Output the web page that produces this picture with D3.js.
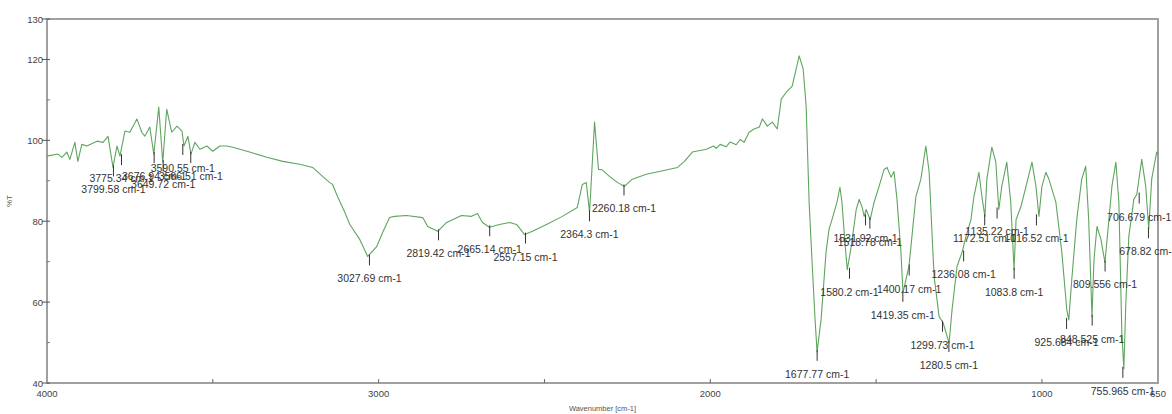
<!DOCTYPE html>
<html>
<head>
<meta charset="utf-8">
<script src="https://cdn.jsdelivr.net/npm/d3@7"></script>
<style>
  body { margin: 0; background: #fff; }
  svg text { font-family: "Liberation Sans", Arial, sans-serif; }
</style>
</head>
<body>
<div id="chart"></div>
<script>
// spectrum (wavenumber cm-1, %T)
const wavenumbers = [
  4000, 3967, 3955, 3940, 3931, 3916, 3907, 3895, 3880, 3849, 3831, 3816, 3801, 3789, 3780, 3765,
  3750, 3729, 3714, 3705, 3690, 3678, 3663, 3651, 3639, 3624, 3608, 3593, 3587, 3575, 3566, 3554,
  3539, 3518, 3500, 3479, 3458, 3440, 3389, 3337, 3289, 3238, 3199, 3169, 3148, 3139, 3124, 3102,
  3087, 3057, 3033, 3006, 2988, 2967, 2952, 2916, 2867, 2852, 2822, 2795, 2750, 2720, 2702, 2687,
  2666, 2636, 2605, 2584, 2560, 2536, 2494, 2446, 2401, 2386, 2374, 2364, 2349, 2337, 2328, 2304,
  2280, 2259, 2235, 2193, 2154, 2099, 2078, 2054, 2012, 1990, 1982, 1970, 1952, 1940, 1922, 1910,
  1898, 1883, 1868, 1852, 1843, 1828, 1813, 1798, 1786, 1771, 1753, 1732, 1720, 1711, 1702, 1693,
  1684, 1678, 1666, 1651, 1642, 1633, 1618, 1609, 1603, 1594, 1587, 1575, 1560, 1551, 1542, 1536,
  1530, 1518, 1506, 1491, 1476, 1467, 1455, 1446, 1437, 1425, 1419, 1410, 1401, 1392, 1380, 1365,
  1350, 1340, 1331, 1325, 1310, 1298, 1280, 1271, 1256, 1241, 1229, 1214, 1205, 1190, 1181, 1172,
  1166, 1151, 1139, 1130, 1121, 1106, 1094, 1084, 1078, 1063, 1048, 1030, 1018, 1009, 1000, 988,
  979, 958, 940, 925, 919, 910, 895, 880, 868, 859, 849, 843, 834, 822, 810, 798,
  789, 777, 768, 759, 753, 747, 738, 723, 714, 699, 687, 678, 669, 654, 650
];
const transmittance = [
  96.1, 96.6, 95.8, 97.1, 95.3, 99.5, 94.8, 99.0, 98.6, 99.8, 99.5, 101.0, 93.3, 98.6, 96.1, 102.3,
  102.0, 105.3, 102.0, 101.0, 103.3, 96.6, 108.2, 94.6, 107.7, 102.0, 103.5, 102.3, 98.6, 101.0, 96.6, 99.5,
  97.8, 98.6, 97.3, 98.6, 98.6, 98.3, 97.1, 95.8, 94.8, 94.1, 93.3, 91.1, 89.6, 89.1, 86.1, 82.2,
  79.2, 75.5, 71.3, 73.7, 77.2, 80.9, 81.2, 81.4, 80.9, 78.7, 77.5, 79.7, 81.4, 81.2, 81.9, 79.7,
  78.5, 79.2, 79.7, 79.2, 76.7, 77.5, 79.2, 81.2, 83.4, 89.1, 89.6, 82.2, 104.5, 92.8, 92.8, 91.1,
  89.6, 88.6, 90.4, 91.6, 92.3, 93.3, 94.8, 97.1, 97.8, 98.6, 98.0, 99.0, 98.4, 99.6, 98.9, 100.2,
  99.5, 102.0, 102.8, 103.3, 105.3, 103.5, 104.5, 102.8, 110.2, 111.9, 113.4, 120.9, 117.7, 108.5, 84.7, 69.8,
  55.6, 47.7, 55.6, 72.3, 78.0, 80.4, 84.7, 88.4, 84.7, 74.7, 68.0, 73.7, 82.9, 85.4, 83.4, 81.2,
  82.9, 80.4, 84.7, 88.6, 92.8, 93.3, 90.9, 92.3, 85.4, 72.3, 62.3, 65.6, 68.8, 76.2, 86.1, 90.4,
  98.6, 92.1, 76.2, 66.3, 56.4, 54.9, 49.9, 58.1, 68.8, 72.3, 76.2, 80.4, 86.1, 92.1, 86.1, 81.2,
  90.4, 98.3, 94.6, 82.9, 88.6, 94.6, 84.7, 68.0, 80.4, 83.7, 88.6, 94.6, 88.6, 81.2, 88.6, 92.1,
  90.4, 84.7, 72.3, 58.1, 55.6, 65.6, 80.4, 90.4, 93.6, 80.4, 56.4, 70.5, 78.7, 75.5, 69.8, 80.4,
  88.6, 94.6, 84.7, 52.4, 43.5, 59.8, 76.2, 85.4, 86.6, 95.3, 88.6, 78.0, 90.4, 97.1, 96.6
];

const peakLabels = [
  "3799.58", "3775.34", "3676.94", "3649.72", "3590.55", "3566.51", "3027.69", "2819.42",
  "2665.14", "2557.15", "2364.3", "2260.18", "1677.77", "1580.2", "1531.92", "1518.78",
  "1419.35", "1400.17", "1299.73", "1280.5", "1236.08", "1172.51", "1135.22", "1083.8",
  "1016.52", "925.684", "848.525", "809.556", "755.965", "706.679", "678.82"
];

const xTicks = [3500, 3000, 2500, 2000, 1500, 1000];
const xTickLabels = [4000, 3000, 2000, 1000, 650];
const yTickLabels = [40, 60, 80, 100, 120, 130];
const yMinorTicks = [50, 70, 90, 110];

const width = 1172;
const height = 414;
const plot = { left: 47, right: 1158, top: 19, bottom: 383 };

const svg = d3.select("#chart")
  .append("svg")
  .attr("width", width)
  .attr("height", height)
  .style("background", "#fff");

const x = d3.scaleLinear().domain([4000, 650]).range([plot.left, plot.right]);
const y = d3.scaleLinear().domain([40, 130]).range([plot.bottom, plot.top]);

const spectrum = wavenumbers.map((w, i) => ({ w, t: transmittance[i] }));

// frame
svg.append("rect")
  .attr("x", x(4000))
  .attr("y", y(130))
  .attr("width", x(650) - x(4000))
  .attr("height", y(40) - y(130))
  .attr("fill", "none")
  .attr("stroke", "#a0a0a0")
  .attr("stroke-width", 2);

// y ticks
const yAxis = svg.append("g").attr("class", "y-axis");
yAxis.selectAll("line.major")
  .data(yTickLabels)
  .join("line")
  .attr("class", "major")
  .attr("x1", plot.left - 5).attr("x2", plot.left + 3)
  .attr("y1", (d) => y(d)).attr("y2", (d) => y(d))
  .attr("stroke", "#555").attr("stroke-width", 1);
yAxis.selectAll("line.minor")
  .data(yMinorTicks)
  .join("line")
  .attr("class", "minor")
  .attr("x1", plot.left).attr("x2", plot.left + 3)
  .attr("y1", (d) => y(d)).attr("y2", (d) => y(d))
  .attr("stroke", "#777").attr("stroke-width", 1);
yAxis.selectAll("text")
  .data(yTickLabels)
  .join("text")
  .attr("x", plot.left - 4)
  .attr("y", (d) => y(d) + 3.5)
  .attr("text-anchor", "end")
  .attr("font-size", 9.5)
  .attr("fill", "#444")
  .text((d) => d);

// x ticks
const xAxis = svg.append("g").attr("class", "x-axis");
xAxis.selectAll("line")
  .data(xTicks)
  .join("line")
  .attr("x1", (d) => x(d)).attr("x2", (d) => x(d))
  .attr("y1", plot.bottom - 4).attr("y2", plot.bottom)
  .attr("stroke", "#666").attr("stroke-width", 1);
xAxis.selectAll("text")
  .data(xTickLabels)
  .join("text")
  .attr("x", (d) => x(d))
  .attr("y", plot.bottom + 14)
  .attr("text-anchor", "middle")
  .attr("font-size", 9.5)
  .attr("fill", "#444")
  .text((d) => d);

svg.append("text")
  .attr("x", (plot.left + plot.right) / 2)
  .attr("y", height - 3)
  .attr("text-anchor", "middle")
  .attr("font-size", 7.5)
  .attr("fill", "#555")
  .text("Wavenumber [cm-1]");

svg.append("text")
  .attr("transform", `translate(12,${(plot.top + plot.bottom) / 2}) rotate(-90)`)
  .attr("text-anchor", "middle")
  .attr("font-size", 8)
  .attr("fill", "#555")
  .text("%T");

// spectrum line
const line = d3.line()
  .x((d) => x(d.w))
  .y((d) => y(d.t));

svg.append("path")
  .datum(spectrum)
  .attr("fill", "none")
  .attr("stroke", "#5fa55f")
  .attr("stroke-width", 1.1)
  .attr("stroke-linejoin", "round")
  .attr("d", line);

// peak markers: sit at the lowest traced point within a few cm-1 of the label
const peaks = peakLabels.map((label) => {
  const w = +label;
  const near = spectrum.filter((d) => Math.abs(d.w - w) <= 8);
  const t = d3.min(near, (d) => d.t);
  return { w, t, label: `${label} cm-1` };
});

const peakGroup = svg.append("g").attr("class", "peaks");
peakGroup.selectAll("line")
  .data(peaks)
  .join("line")
  .attr("x1", (d) => x(d.w)).attr("x2", (d) => x(d.w))
  .attr("y1", (d) => y(d.t) - 2)
  .attr("y2", (d) => y(d.t) + 9)
  .attr("stroke", "#333")
  .attr("stroke-width", 1);
peakGroup.selectAll("text")
  .data(peaks)
  .join("text")
  .attr("x", (d) => x(d.w))
  .attr("y", (d) => y(d.t) + 26)
  .attr("text-anchor", "middle")
  .attr("font-size", 10.5)
  .attr("fill", "#333")
  .text((d) => d.label);
</script>
</body>
</html>
